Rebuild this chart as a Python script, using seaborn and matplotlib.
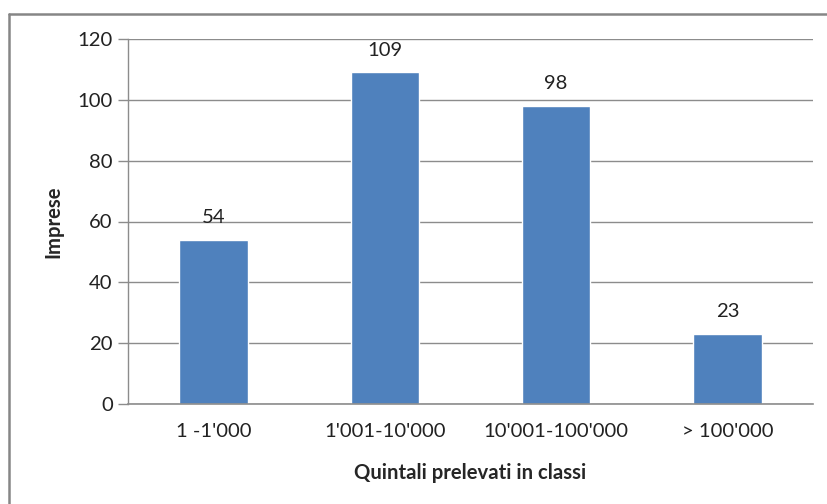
import matplotlib.pyplot as plt
from matplotlib.lines import Line2D
import seaborn as sns
import pandas as pd

# dados
classi = ["1 -1'000", "1'001-10'000", "10'001-100'000", "> 100'000"]
imprese = [54, 109, 98, 23]
y_ticks = [0, 20, 40, 60, 80, 100, 120]

df = pd.DataFrame({"classe": classi, "imprese": imprese})

sns.set_style("white")
plt.rcParams['font.family'] = ['Lato', 'DejaVu Sans']

fig = plt.figure(figsize=(8.27, 5.04), dpi=100)
ax = fig.add_axes([128 / 827, 100 / 504, 685 / 827, 365 / 504])

azul = "#4F81BD"
fs = 14.6
sns.barplot(data=df, x="classe", y="imprese", color=azul, width=0.4,
            saturation=1, ax=ax)

ax.set_ylim(0, 120)
ax.set_xlim(-0.5, 3.5)
ax.set_yticks(y_ticks)
ax.yaxis.grid(True, color="#8c8c8c", linewidth=1)
ax.set_axisbelow(True)

for b in ax.containers:
    ax.bar_label(b, padding=10, fontsize=fs, color="#222222")

ax.set_xlabel("Quintali prelevati in classi", fontsize=fs, fontweight="bold",
              labelpad=16)
ax.set_ylabel("Imprese", fontsize=fs, fontweight="bold", labelpad=10)
ax.tick_params(axis="y", length=7, width=1, color="#8c8c8c", labelsize=fs,
               labelcolor="#222222", pad=4, left=True)
ax.tick_params(axis="x", length=0, labelsize=fs, labelcolor="#222222", pad=14)

# bordas
ax.spines['top'].set_visible(False)
ax.spines['right'].set_visible(False)
ax.spines['left'].set_color("#8c8c8c")
ax.spines['bottom'].set_color("#8c8c8c")
ax.spines['left'].set_linewidth(1)
ax.spines['bottom'].set_linewidth(1.2)

# moldura externa (estilo Excel)
x0, y0 = 8.5 / 827, 1 - 13.5 / 504
fig.add_artist(Line2D([x0, x0], [0, y0], transform=fig.transFigure,
                      color="#868686", linewidth=1.8))
fig.add_artist(Line2D([x0, 1], [y0, y0], transform=fig.transFigure,
                      color="#868686", linewidth=1.8))

fig.savefig("out.png", dpi=100)
